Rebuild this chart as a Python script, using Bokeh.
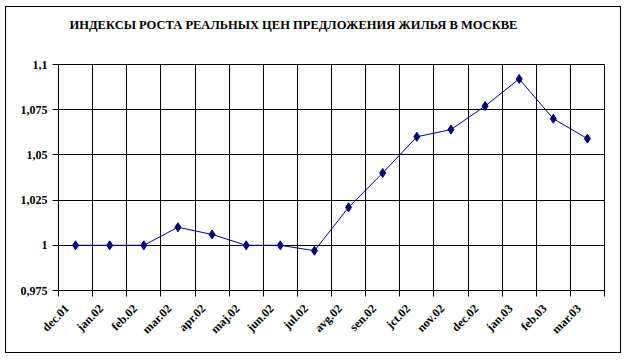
import math
from bokeh.plotting import figure
from bokeh.models import FixedTicker, CustomJSTickFormatter, Range1d, Title
from bokeh.embed import file_html
from bokeh.resources import INLINE

title_text = "ИНДЕКСЫ РОСТА РЕАЛЬНЫХ ЦЕН ПРЕДЛОЖЕНИЯ ЖИЛЬЯ В МОСКВЕ"
categories = ["dec.01", "jan.02", "feb.02", "mar.02", "apr.02", "maj.02", "jun.02", "jul.02",
              "avg.02", "sen.02", "jct.02", "nov.02", "dec.02", "jan.03", "feb.03", "mar.03"]
values = [1.000, 1.000, 1.000, 1.010, 1.006, 1.000, 1.000, 0.997,
          1.021, 1.040, 1.060, 1.064, 1.077, 1.092, 1.070, 1.059]
y_ticks = [0.975, 1.0, 1.025, 1.05, 1.075, 1.1]
y_tick_labels = ["0,975", "1", "1,025", "1,05", "1,075", "1,1"]

n = len(categories)
centers = [i + 0.5 for i in range(n)]
label_pos = [i + 0.25 for i in range(n)]
bounds = list(range(n + 1))

FONT = "Liberation Serif"

p = figure(width=616, height=347, x_range=Range1d(0, n), y_range=Range1d(y_ticks[0], y_ticks[-1]),
           output_backend="svg", toolbar_location=None,
           min_border_left=52, min_border_right=18, min_border_top=0, min_border_bottom=64)
p.styles = {"border": "1px solid black", "margin-left": "5px", "margin-top": "6px"}
p.background_fill_color = "white"
p.border_fill_color = "white"
p.outline_line_color = "black"
p.outline_line_width = 1

# spacer between title and frame
spacer = Title(text=" ", text_font_size="1px", standoff=21)
p.add_layout(spacer, "above")

p.title.text = title_text
p.title.text_font = FONT
p.title.text_font_style = "bold"
p.title.text_font_size = "12.5px"
p.title.text_color = "black"
p.title.align = "left"
p.title.offset = 11
p.title.standoff = 17

# x axis
xa = p.xaxis[0]
xa.ticker = FixedTicker(ticks=label_pos, minor_ticks=bounds)
xa.formatter = CustomJSTickFormatter(args=dict(cat_labels=categories),
                                     code="const i = Math.floor(tick); return cat_labels[i] || '';")
xa.major_tick_in = 0
xa.major_tick_out = 0
xa.minor_tick_in = 0
xa.minor_tick_out = 6
xa.minor_tick_line_color = "black"
xa.axis_line_color = "black"
xa.major_label_orientation = math.pi / 4
xa.major_label_text_font = FONT
xa.major_label_text_font_style = "bold"
xa.major_label_text_font_size = "12px"
xa.major_label_text_color = "black"
xa.major_label_standoff = 10

# y axis
ya = p.yaxis[0]
ya.ticker = FixedTicker(ticks=y_ticks)
ya.formatter = CustomJSTickFormatter(args=dict(yvals=y_ticks, ylabs=y_tick_labels),
    code="""let best = 0; for (let i = 0; i < yvals.length; i++) { if (Math.abs(yvals[i]-tick) < Math.abs(yvals[best]-tick)) best = i; } return ylabs[best];""")
ya.major_tick_in = 0
ya.major_tick_out = 6
ya.minor_tick_line_color = None
ya.axis_line_color = "black"
ya.major_label_text_font = FONT
ya.major_label_text_font_style = "bold"
ya.major_label_text_font_size = "12px"
ya.major_label_text_color = "black"
ya.major_label_standoff = 5

p.xgrid.ticker = FixedTicker(ticks=bounds)
p.ygrid.ticker = FixedTicker(ticks=y_ticks)
for g in (p.xgrid[0], p.ygrid[0]):
    g.grid_line_color = "black"
    g.grid_line_alpha = 1.0
    g.grid_line_width = 1

p.line(centers, values, line_color="#000080", line_width=1)
p.scatter(centers, values, marker="diamond", size=9, fill_color="#000080", line_color="#000080")

open("out.html", "w").write(file_html(p, INLINE))
